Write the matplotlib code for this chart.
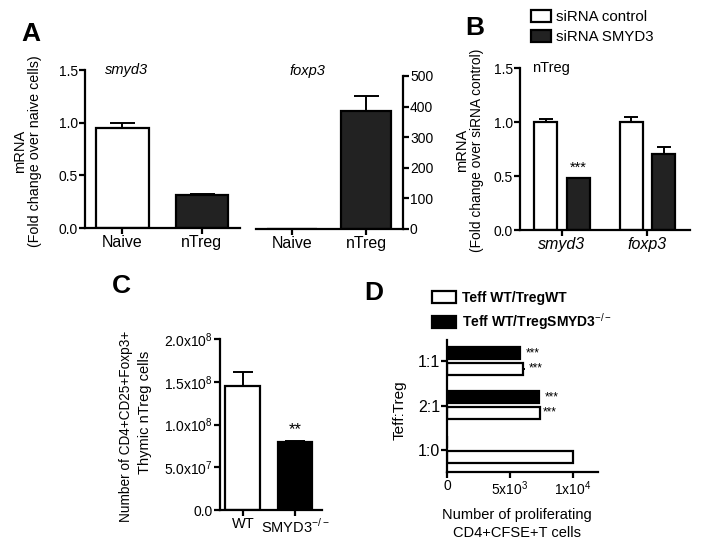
import matplotlib
matplotlib.use("Agg")
import matplotlib.pyplot as plt
from matplotlib import font_manager

# data
a_groups = ["Naive", "nTreg"]
smyd3_mean = [0.95, 0.315]
smyd3_err = [0.05, 0.006]
foxp3_mean = [1.0, 384]
foxp3_err = [0, 51]

b_genes = ["smyd3", "foxp3"]
b_control = [1.0, 1.0]
b_control_err = [0.03, 0.05]
b_sirna = [0.48, 0.70]
b_sirna_err = [0.005, 0.07]

c_groups = ["WT", "SMYD3$^{-/-}$"]
c_counts = [1.45e8, 0.795e8]
c_err = [0.16e8, 0.012e8]
c_ticks = [0, 5e7, 1e8, 1.5e8, 2e8]
c_ticklabels = ["0.0", "5.0x10$^7$", "1.0x10$^8$", "1.5x10$^8$", "2.0x10$^8$"]

d_ratios = ["1:0", "2:1", "1:1"]
d_wt = [10000, 7380, 6030]
d_wt_err = [0, 0, 180]
d_ko = [0, 7300, 5790]
d_ticks = [0, 5000, 10000]
d_ticklabels = ["0", "5x10$^3$", "1x10$^4$"]

W, H = 701, 555
DARK = "#222222"

available = {f.name for f in font_manager.fontManager.ttflist}
family = [f for f in ["Liberation Sans Narrow", "Liberation Sans", "DejaVu Sans"] if f in available]
plt.rcParams["font.family"] = family
plt.rcParams["mathtext.fontset"] = "custom"
plt.rcParams["mathtext.rm"] = family[0]
plt.rcParams["axes.linewidth"] = 1.6
plt.rcParams["xtick.major.width"] = 1.6
plt.rcParams["ytick.major.width"] = 1.6
plt.rcParams["xtick.major.size"] = 4
plt.rcParams["ytick.major.size"] = 4
plt.rcParams["xtick.labelsize"] = 10
plt.rcParams["ytick.labelsize"] = 10

fig = plt.figure(figsize=(W / 100, H / 100), dpi=100)


def axes_px(left, top, right, bottom):
    return fig.add_axes([left / W, 1 - bottom / H, (right - left) / W, (bottom - top) / H])


def ftext(x, y, s, **kw):
    kw.setdefault("ha", "center")
    kw.setdefault("va", "center")
    return fig.text(x / W, 1 - y / H, s, **kw)


def style(ax, keep=("left", "bottom")):
    for side in ["left", "right", "top", "bottom"]:
        ax.spines[side].set_visible(side in keep)
    ax.tick_params(direction="out", pad=1)


bar_kw = dict(edgecolor="black", linewidth=1.6)
err_kw = dict(elinewidth=1.4, capthick=1.4)

# ---- panel A, smyd3
ax = axes_px(85, 70, 240, 228)
style(ax)
x = range(len(a_groups))
ax.bar(x, smyd3_mean, width=0.66, color=["white", DARK], **bar_kw,
       yerr=[[0, 0], smyd3_err], capsize=9, error_kw=err_kw)
ax.set_xlim(-0.47, 1.48)
ax.set_ylim(0, 1.5)
ax.set_yticks([0, 0.5, 1.0, 1.5])
ax.set_yticklabels(["0.0", "0.5", "1.0", "1.5"])
ax.set_xticks(list(x))
ax.set_xticklabels(a_groups, fontsize=11.5)
ax.text(0.27, 1.0, "smyd3", transform=ax.transAxes, style="italic", fontsize=10.5, ha="center", va="center")

# ---- panel A, foxp3
ax = axes_px(256, 76, 403, 229)
style(ax, keep=("right", "bottom"))
ax.yaxis.tick_right()
ax.bar(x, foxp3_mean, width=0.68, color=["white", DARK], **bar_kw,
       yerr=[[0, 0], foxp3_err], capsize=9, error_kw=err_kw)
ax.set_xlim(-0.49, 1.5)
ax.set_ylim(0, 500)
ax.set_yticks([0, 100, 200, 300, 400, 500])
ax.set_xticks(list(x))
ax.set_xticklabels(a_groups, fontsize=11.5)
ftext(307, 71, "foxp3", style="italic", fontsize=10.5)

ftext(20, 151, "mRNA", rotation=90, fontsize=10.5)
ftext(35, 151, "(Fold change over naive cells)", rotation=90, fontsize=10.3)

# ---- panel B
ax = axes_px(520, 68, 690, 230)
style(ax)
x = range(len(b_genes))
off = 0.19
bw = 0.27
ctrl = ax.bar([i - off for i in x], b_control, width=bw, color="white", **bar_kw,
              yerr=[[0, 0], b_control_err], capsize=5, error_kw=err_kw, label="siRNA control")
kd = ax.bar([i + off for i in x], b_sirna, width=bw, color=DARK, **bar_kw,
            yerr=[[0, 0], b_sirna_err], capsize=5, error_kw=err_kw, label="siRNA SMYD3")
ax.text(0 + off, b_sirna[0] + 0.03, "***", ha="center", va="bottom", fontsize=10.5)
ax.set_xlim(-0.49, 1.5)
ax.set_ylim(0, 1.5)
ax.set_yticks([0, 0.5, 1.0, 1.5])
ax.set_yticklabels(["0.0", "0.5", "1.0", "1.5"])
ax.set_xticks(list(x))
ax.set_xticklabels(b_genes, fontsize=11.5, style="italic")
ax.text(0.07, 1.0, "nTreg", transform=ax.transAxes, fontsize=10.5, ha="left", va="center")
ax.legend(handles=[ctrl, kd], loc="upper left", bbox_to_anchor=(531 / W, 1 - 10 / H),
          bbox_transform=fig.transFigure, frameon=False, fontsize=10.8,
          handlelength=1.35, handleheight=0.85, handletextpad=0.35, labelspacing=0.4,
          borderpad=0, borderaxespad=0)

ftext(462, 150, "mRNA", rotation=90, fontsize=10.5)
ftext(477, 150, "(Fold change over siRNA control)", rotation=90, fontsize=9.9)

# ---- panel C
ax = axes_px(220, 339, 322, 510)
style(ax)
x = range(len(c_groups))
ax.bar(x, c_counts, width=0.67, color=["white", "black"], **bar_kw,
       yerr=[[0, 0], c_err], capsize=7, error_kw=err_kw)
ax.text(1, c_counts[1] + 0.06e8, "**", ha="center", va="bottom", fontsize=12)
ax.set_xlim(-0.44, 1.52)
ax.set_ylim(0, 2e8)
ax.set_yticks(c_ticks)
ax.set_yticklabels(c_ticklabels)
ax.set_xticks(list(x))
ax.set_xticklabels(c_groups, fontsize=10.5)
ftext(126, 426, "Number of CD4+CD25+Foxp3+", rotation=90, fontsize=9.8)
ftext(145, 412, "Thymic nTreg cells", rotation=90, fontsize=10.5)

# ---- panel D
ax = axes_px(447, 340, 598, 472)
style(ax)
y = range(len(d_ratios))
hh = 0.27
dwt = ax.barh([i - 0.165 for i in y], d_wt, height=hh, color="white", **bar_kw,
              xerr=[[0] * 3, d_wt_err], capsize=0, error_kw=err_kw, label="Teff WT/TregWT")
dko = ax.barh([i + 0.185 for i in y], d_ko, height=hh, color="black", **bar_kw,
              label="Teff WT/TregSMYD3$^{-/-}$")
for i in [1, 2]:
    ax.text(d_wt[i] + d_wt_err[i] + 250, i - 0.165, "***", ha="left", va="center", fontsize=8.5)
    ax.text(d_ko[i] + 450, i + 0.185, "***", ha="left", va="center", fontsize=8.5)
ax.set_ylim(-0.5, 2.48)
ax.set_xlim(0, 12000)
ax.set_xticks(d_ticks)
ax.set_xticklabels(d_ticklabels, fontsize=10)
ax.set_yticks(list(y))
ax.set_yticklabels(d_ratios, fontsize=11.5)
ax.legend(handles=[dwt, dko], loc="upper left", bbox_to_anchor=(432 / W, 1 - 291 / H),
          bbox_transform=fig.transFigure, frameon=False,
          prop={"size": 10, "weight": "bold"},
          handlelength=1.75, handleheight=0.95, handletextpad=0.4, labelspacing=0.45,
          borderpad=0, borderaxespad=0)
ftext(400, 410, "Teff:Treg", rotation=90, fontsize=11)
ftext(517, 524, "Number of proliferating\nCD4+CFSE+T cells", fontsize=10.5, linespacing=1.3)

# panel letters
for letter, px, py in [("A", 31, 34), ("B", 475, 28), ("C", 121, 286), ("D", 374, 293)]:
    ftext(px, py, letter, fontsize=19, fontweight="heavy", family="Liberation Sans")

fig.savefig("out.png", dpi=100)
